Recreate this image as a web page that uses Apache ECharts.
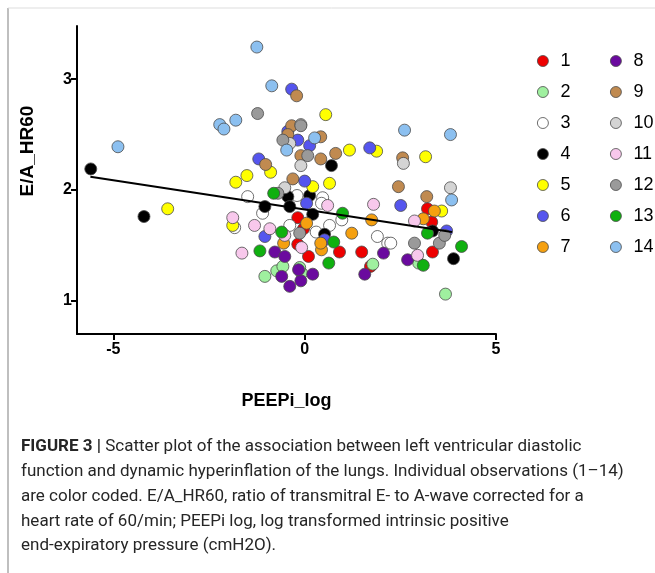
<!DOCTYPE html>
<html>
<head>
<meta charset="utf-8">
<script src="https://cdn.jsdelivr.net/npm/echarts@6/dist/echarts.min.js"></script>
<style>html,body{margin:0;padding:0;background:#fff;}#c{width:655px;height:573px;}</style>
</head>
<body>
<div id="c"></div>
<script>
// ---- data ----
const seriesNames = ['1','2','3','4','5','6','7','8','9','10','11','12','13','14'];
const colors = ['#ee0000','#9ff09f','#ffffff','#000000','#ffff00','#5555ee','#f5a010','#6a0a9e','#c08a50','#d4d4d4','#f8c8ec','#9a9a9a','#10b010','#8cc0f0'];

const x1 = [-0.18,-0.03,-0.18,0.10,0.91,1.49,1.72,3.34,3.21,3.32];
const y1 = [1.75,1.65,1.51,1.40,1.44,1.44,1.31,1.44,1.83,1.71];
const x2 = [-1.04,-0.73,-0.57,-0.08,-0.13,2.98,3.68,1.78];
const y2 = [1.22,1.27,1.31,1.25,1.30,1.34,1.06,1.33];
const x3 = [-1.49,-1.10,-0.20,0.47,-0.39,0.30,0.65,0.97,-1.83,1.90,2.17,2.25,0.44];
const y3 = [1.94,1.79,1.95,1.93,1.68,1.62,1.68,1.73,1.66,1.58,1.52,1.52,1.88];
const x4 = [-5.59,-4.20,0.70,-1.04,-0.44,-0.39,0.13,0.21,0.52,3.34,3.89];
const y4 = [2.19,1.76,2.22,1.85,1.94,1.85,1.95,1.78,1.60,1.63,1.38];
const x5 = [0.55,1.17,1.88,3.16,-1.51,-1.80,-0.89,0.65,0.21,-3.58,3.58,-1.88];
const y5 = [2.68,2.36,2.35,2.30,2.13,2.07,2.16,2.06,2.03,1.83,1.81,1.68];
const x6 = [-0.34,-1.20,-0.44,-0.18,0.13,0.00,1.70,2.51,-1.04,0.05,0.52,3.71];
const y6 = [2.91,2.28,2.53,2.45,2.40,2.08,2.38,1.86,1.58,1.88,1.55,1.63];
const x7 = [-0.55,0.44,1.23,1.75,3.10,3.39,0.42,0.05];
const y7 = [1.52,1.46,1.61,1.73,1.74,1.81,1.52,1.70];
const x8 = [-0.78,-0.52,0.21,-0.39,-0.10,-0.60,2.06,1.57,2.69,-0.16];
const y8 = [1.44,1.40,1.24,1.13,1.18,1.22,1.43,1.24,1.37,1.28];
const x9 = [-0.21,-0.34,-0.44,0.42,0.81,-0.10,0.42,-1.02,-0.31,2.56,2.45,3.19];
const y9 = [2.85,2.58,2.50,2.48,2.33,2.31,2.28,2.23,2.10,2.29,2.03,1.94];
const x10 = [-0.10,-0.39,-0.10,-0.52,2.58,3.81];
const y10 = [2.59,2.42,2.22,2.02,2.24,2.02];
const x11 = [-1.88,-1.31,-0.91,-0.52,-0.08,-1.64,1.80,0.60,2.87,2.95];
const y11 = [1.75,1.68,1.65,1.59,1.48,1.43,1.87,1.86,1.72,1.41];
const x12 = [-1.23,-0.10,-0.57,0.08,-0.13,2.87,3.52,3.66,-0.70];
const y12 = [2.69,2.58,2.45,2.31,1.61,1.52,1.52,1.59,1.97];
const x13 = [-1.17,-0.60,0.63,0.76,0.99,3.10,4.10,3.21,-0.81];
const y13 = [1.45,1.62,1.34,1.53,1.79,1.32,1.49,1.61,1.97];
const x14 = [-4.88,-1.25,-0.86,-2.22,-2.11,-1.80,2.61,3.81,-0.47,0.26,3.84];
const y14 = [2.39,3.29,2.94,2.59,2.55,2.63,2.54,2.50,2.36,2.47,1.91];

const fitX = [-5.6, 3.85];
const fitY = [2.12, 1.62];

const xTicks = [-5, 0, 5];
const yTicks = [1, 2, 3];

const xName = 'PEEPi_log';
const yName = 'E/A_HR60';
const captionLines = [
  '{b|FIGURE 3 |} Scatter plot of the association between left ventricular diastolic',
  'function and dynamic hyperinflation of the lungs. Individual observations (1–14)',
  'are color coded. E/A_HR60, ratio of transmitral E- to A-wave corrected for a',
  'heart rate of 60/min; PEEPi log, log transformed intrinsic positive',
  'end-expiratory pressure (cmH2O).'
];

// ---- build ----
const xs = [x1,x2,x3,x4,x5,x6,x7,x8,x9,x10,x11,x12,x13,x14];
const ys = [y1,y2,y3,y4,y5,y6,y7,y8,y9,y10,y11,y12,y13,y14];
const zip = (a, b) => a.map((v, i) => [v, b[i]]);

const FONT = '"Liberation Sans", Arial, sans-serif';

const series = seriesNames.map((n, i) => ({
  name: n,
  type: 'scatter',
  symbol: 'circle',
  symbolSize: 12,
  data: zip(xs[i], ys[i]),
  itemStyle: { color: colors[i], borderColor: '#4a4a4a', borderWidth: 0.8, opacity: 1 },
  z: 2
}));
series.push({
  name: 'fit',
  type: 'line',
  data: zip(fitX, fitY),
  symbol: 'none',
  lineStyle: { color: '#000', width: 2 },
  z: 5,
  silent: true
});

const legendCommon = {
  orient: 'vertical',
  icon: 'circle',
  itemWidth: 11,
  itemHeight: 11,
  itemGap: 13,
  itemStyle: { borderColor: '#4a4a4a', borderWidth: 0.8 },
  textStyle: { fontFamily: FONT, fontSize: 18, color: '#000', padding: [0, 0, 0, 7] },
  selectedMode: false
};

const graphics = [
  { type: 'line', shape: { x1: 8, y1: 8, x2: 8, y2: 573 }, style: { stroke: '#aaa', lineWidth: 1.5 } },
  { type: 'line', shape: { x1: 8, y1: 8, x2: 655, y2: 8 }, style: { stroke: '#ddd', lineWidth: 1 } },
  {
    type: 'text', x: 28, y: 151, rotation: Math.PI / 2,
    style: { text: yName, font: 'bold 19px ' + FONT, fill: '#000', textAlign: 'center', textVerticalAlign: 'middle' }
  }
];
captionLines.forEach((t, i) => {
  graphics.push({
    type: 'text', x: 21, y: 447 + i * 24.8,
    style: {
      text: t, font: '17px Roboto, sans-serif', fill: '#262626', textVerticalAlign: 'middle',
      rich: { b: { font: 'bold 17px Roboto, sans-serif', fill: '#262626' } }
    }
  });
});

const chart = echarts.init(document.getElementById('c'), null, { renderer: 'canvas' });
chart.setOption({
  animation: false,
  backgroundColor: '#fff',
  grid: { left: 77, right: 159, top: 26, bottom: 239, containLabel: false },
  xAxis: {
    type: 'value', min: -5.95, max: 5,
    name: xName, nameLocation: 'middle', nameGap: 58,
    nameTextStyle: { fontFamily: FONT, fontWeight: 'bold', fontSize: 18, color: '#000' },
    axisLine: { show: true, onZero: false, lineStyle: { color: '#000', width: 2 } },
    axisTick: { show: true, length: 6, lineStyle: { color: '#000', width: 2 }, customValues: xTicks },
    axisLabel: { fontFamily: FONT, fontWeight: 'bold', fontSize: 16, color: '#000', margin: 8, customValues: xTicks },
    splitLine: { show: false }
  },
  yAxis: {
    type: 'value', min: 0.7, max: 3.48,
    axisLine: { show: true, onZero: false, lineStyle: { color: '#000', width: 2 } },
    axisTick: { show: true, length: 6, lineStyle: { color: '#000', width: 2 }, customValues: yTicks },
    axisLabel: { fontFamily: FONT, fontWeight: 'bold', fontSize: 16, color: '#000', margin: 5, customValues: yTicks },
    splitLine: { show: false }
  },
  legend: [
    Object.assign({}, legendCommon, { data: seriesNames.slice(0, 7), left: 532, top: 47 }),
    Object.assign({}, legendCommon, { data: seriesNames.slice(7), left: 605, top: 47 })
  ],
  graphic: graphics,
  series: series
});
</script>
</body>
</html>
